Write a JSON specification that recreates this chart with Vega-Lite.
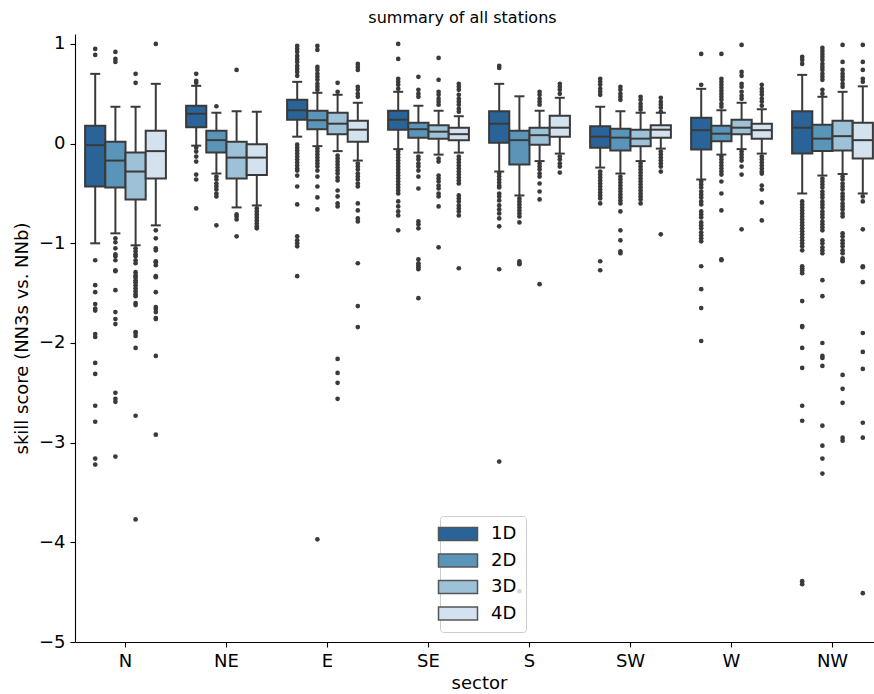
{
  "$schema": "https://vega.github.io/schema/vega-lite/v6.json",
  "autosize": "none",
  "width": 799,
  "height": 608,
  "padding": {"left": 75, "top": 34, "right": 0, "bottom": 52},
  "title": {"text": "summary of all stations", "font": "DejaVu Sans", "fontSize": 16, "fontWeight": "normal", "color": "#000000", "offset": 8, "dx": -12},
  "config": {
    "view": {"stroke": null},
    "font": "DejaVu Sans",
    "axis": {"grid": false, "labelFont": "DejaVu Sans", "titleFont": "DejaVu Sans", "labelFontSize": 18, "titleFontSize": 18, "titleFontWeight": "normal", "labelColor": "#000000", "titleColor": "#000000", "domainColor": "#000000", "domainWidth": 1.1, "tickColor": "#000000", "tickWidth": 1.1, "tickSize": 5}
  },
  "datasets": {
    "boxes": [
      {"s": "N", "d": "1D", "lo": -1.00, "q1": -0.43, "med": -0.015, "q3": 0.18, "hi": 0.70},
      {"s": "N", "d": "2D", "lo": -0.90, "q1": -0.44, "med": -0.17, "q3": 0.02, "hi": 0.37},
      {"s": "N", "d": "3D", "lo": -1.02, "q1": -0.56, "med": -0.28, "q3": -0.09, "hi": 0.37},
      {"s": "N", "d": "4D", "lo": -0.82, "q1": -0.35, "med": -0.075, "q3": 0.13, "hi": 0.60},
      {"s": "NE", "d": "1D", "lo": -0.02, "q1": 0.165, "med": 0.30, "q3": 0.38, "hi": 0.58},
      {"s": "NE", "d": "2D", "lo": -0.30, "q1": -0.09, "med": 0.035, "q3": 0.13, "hi": 0.31},
      {"s": "NE", "d": "3D", "lo": -0.64, "q1": -0.35, "med": -0.14, "q3": 0.02, "hi": 0.325},
      {"s": "NE", "d": "4D", "lo": -0.62, "q1": -0.315, "med": -0.14, "q3": -0.005, "hi": 0.32},
      {"s": "E", "d": "1D", "lo": 0.07, "q1": 0.24, "med": 0.335, "q3": 0.44, "hi": 0.62},
      {"s": "E", "d": "2D", "lo": -0.025, "q1": 0.145, "med": 0.235, "q3": 0.33, "hi": 0.51},
      {"s": "E", "d": "3D", "lo": -0.075, "q1": 0.095, "med": 0.20, "q3": 0.31, "hi": 0.49},
      {"s": "E", "d": "4D", "lo": -0.17, "q1": 0.02, "med": 0.14, "q3": 0.23, "hi": 0.41},
      {"s": "SE", "d": "1D", "lo": -0.055, "q1": 0.14, "med": 0.24, "q3": 0.33, "hi": 0.52},
      {"s": "SE", "d": "2D", "lo": -0.09, "q1": 0.06, "med": 0.145, "q3": 0.21, "hi": 0.38},
      {"s": "SE", "d": "3D", "lo": -0.11, "q1": 0.05, "med": 0.12, "q3": 0.185, "hi": 0.33},
      {"s": "SE", "d": "4D", "lo": -0.09, "q1": 0.035, "med": 0.095, "q3": 0.16, "hi": 0.275},
      {"s": "S", "d": "1D", "lo": -0.28, "q1": 0.01, "med": 0.20, "q3": 0.325, "hi": 0.60},
      {"s": "S", "d": "2D", "lo": -0.52, "q1": -0.21, "med": 0.035, "q3": 0.13, "hi": 0.475},
      {"s": "S", "d": "3D", "lo": -0.175, "q1": -0.01, "med": 0.085, "q3": 0.16, "hi": 0.33},
      {"s": "S", "d": "4D", "lo": -0.10, "q1": 0.07, "med": 0.16, "q3": 0.28, "hi": 0.46},
      {"s": "SW", "d": "1D", "lo": -0.24, "q1": -0.04, "med": 0.07, "q3": 0.175, "hi": 0.37},
      {"s": "SW", "d": "2D", "lo": -0.30, "q1": -0.07, "med": 0.06, "q3": 0.15, "hi": 0.325},
      {"s": "SW", "d": "3D", "lo": -0.175, "q1": -0.025, "med": 0.05, "q3": 0.14, "hi": 0.31},
      {"s": "SW", "d": "4D", "lo": -0.05, "q1": 0.06, "med": 0.14, "q3": 0.185, "hi": 0.31},
      {"s": "W", "d": "1D", "lo": -0.36, "q1": -0.06, "med": 0.135, "q3": 0.26, "hi": 0.55},
      {"s": "W", "d": "2D", "lo": -0.11, "q1": 0.025, "med": 0.10, "q3": 0.18, "hi": 0.335},
      {"s": "W", "d": "3D", "lo": -0.055, "q1": 0.095, "med": 0.16, "q3": 0.24, "hi": 0.41},
      {"s": "W", "d": "4D", "lo": -0.10, "q1": 0.05, "med": 0.135, "q3": 0.20, "hi": 0.345},
      {"s": "NW", "d": "1D", "lo": -0.50, "q1": -0.10, "med": 0.16, "q3": 0.325, "hi": 0.69},
      {"s": "NW", "d": "2D", "lo": -0.32, "q1": -0.075, "med": 0.05, "q3": 0.19, "hi": 0.47},
      {"s": "NW", "d": "3D", "lo": -0.305, "q1": -0.07, "med": 0.075, "q3": 0.23, "hi": 0.52},
      {"s": "NW", "d": "4D", "lo": -0.50, "q1": -0.15, "med": 0.035, "q3": 0.21, "hi": 0.575}
    ],
    "outliers": [
      {"s":"N","d":"1D","v":0.95},{"s":"N","d":"1D","v":0.89},{"s":"N","d":"1D","v":-1.17},{"s":"N","d":"1D","v":-1.42},{"s":"N","d":"1D","v":-1.49},{"s":"N","d":"1D","v":-1.61},{"s":"N","d":"1D","v":-1.655},{"s":"N","d":"1D","v":-1.675},{"s":"N","d":"1D","v":-1.91},{"s":"N","d":"1D","v":-1.94},{"s":"N","d":"1D","v":-2.20},{"s":"N","d":"1D","v":-2.31},{"s":"N","d":"1D","v":-2.63},{"s":"N","d":"1D","v":-2.79},{"s":"N","d":"1D","v":-3.16},{"s":"N","d":"1D","v":-3.22},
      {"s":"N","d":"2D","v":0.92},{"s":"N","d":"2D","v":0.85},{"s":"N","d":"2D","v":0.82},{"s":"N","d":"2D","v":-0.95},{"s":"N","d":"2D","v":-0.99},{"s":"N","d":"2D","v":-1.05},{"s":"N","d":"2D","v":-1.11},{"s":"N","d":"2D","v":-1.13},{"s":"N","d":"2D","v":-1.17},{"s":"N","d":"2D","v":-1.27},{"s":"N","d":"2D","v":-1.28},{"s":"N","d":"2D","v":-1.47},{"s":"N","d":"2D","v":-1.69},{"s":"N","d":"2D","v":-1.76},{"s":"N","d":"2D","v":-1.81},{"s":"N","d":"2D","v":-2.50},{"s":"N","d":"2D","v":-2.56},{"s":"N","d":"2D","v":-2.59},{"s":"N","d":"2D","v":-3.14},
      {"s":"N","d":"3D","v":0.70},{"s":"N","d":"3D","v":0.61},{"s":"N","d":"3D","v":-1.05},{"s":"N","d":"3D","v":-1.08},{"s":"N","d":"3D","v":-1.11},{"s":"N","d":"3D","v":-1.13},{"s":"N","d":"3D","v":-1.17},{"s":"N","d":"3D","v":-1.20},{"s":"N","d":"3D","v":-1.29},{"s":"N","d":"3D","v":-1.32},{"s":"N","d":"3D","v":-1.34},{"s":"N","d":"3D","v":-1.37},{"s":"N","d":"3D","v":-1.39},{"s":"N","d":"3D","v":-1.42},{"s":"N","d":"3D","v":-1.45},{"s":"N","d":"3D","v":-1.48},{"s":"N","d":"3D","v":-1.51},{"s":"N","d":"3D","v":-1.53},{"s":"N","d":"3D","v":-1.60},{"s":"N","d":"3D","v":-1.62},{"s":"N","d":"3D","v":-1.89},{"s":"N","d":"3D","v":-1.90},{"s":"N","d":"3D","v":-1.93},{"s":"N","d":"3D","v":-2.05},{"s":"N","d":"3D","v":-2.73},{"s":"N","d":"3D","v":-3.77},
      {"s":"N","d":"4D","v":1.00},{"s":"N","d":"4D","v":-0.87},{"s":"N","d":"4D","v":-0.95},{"s":"N","d":"4D","v":-1.05},{"s":"N","d":"4D","v":-1.07},{"s":"N","d":"4D","v":-1.18},{"s":"N","d":"4D","v":-1.19},{"s":"N","d":"4D","v":-1.22},{"s":"N","d":"4D","v":-1.33},{"s":"N","d":"4D","v":-1.34},{"s":"N","d":"4D","v":-1.49},{"s":"N","d":"4D","v":-1.64},{"s":"N","d":"4D","v":-1.66},{"s":"N","d":"4D","v":-1.69},{"s":"N","d":"4D","v":-1.75},{"s":"N","d":"4D","v":-1.76},{"s":"N","d":"4D","v":-2.13},{"s":"N","d":"4D","v":-2.92},
      {"s":"NE","d":"1D","v":0.70},{"s":"NE","d":"1D","v":0.63},{"s":"NE","d":"1D","v":0.61},{"s":"NE","d":"1D","v":-0.04},{"s":"NE","d":"1D","v":-0.08},{"s":"NE","d":"1D","v":-0.13},{"s":"NE","d":"1D","v":-0.18},{"s":"NE","d":"1D","v":-0.31},{"s":"NE","d":"1D","v":-0.36},{"s":"NE","d":"1D","v":-0.65},
      {"s":"NE","d":"2D","v":0.375},{"s":"NE","d":"2D","v":-0.33},{"s":"NE","d":"2D","v":-0.36},{"s":"NE","d":"2D","v":-0.40},{"s":"NE","d":"2D","v":-0.43},{"s":"NE","d":"2D","v":-0.46},{"s":"NE","d":"2D","v":-0.50},{"s":"NE","d":"2D","v":-0.53},{"s":"NE","d":"2D","v":-0.82},
      {"s":"NE","d":"3D","v":0.74},{"s":"NE","d":"3D","v":-0.71},{"s":"NE","d":"3D","v":-0.73},{"s":"NE","d":"3D","v":-0.76},{"s":"NE","d":"3D","v":-0.93},
      {"s":"NE","d":"4D","v":-0.65},{"s":"NE","d":"4D","v":-0.68},{"s":"NE","d":"4D","v":-0.71},{"s":"NE","d":"4D","v":-0.74},{"s":"NE","d":"4D","v":-0.77},{"s":"NE","d":"4D","v":-0.80},{"s":"NE","d":"4D","v":-0.83},{"s":"NE","d":"4D","v":-0.85},
      {"s":"E","d":"1D","v":0.98},{"s":"E","d":"1D","v":0.95},{"s":"E","d":"1D","v":0.92},{"s":"E","d":"1D","v":0.88},{"s":"E","d":"1D","v":0.85},{"s":"E","d":"1D","v":0.82},{"s":"E","d":"1D","v":0.78},{"s":"E","d":"1D","v":0.75},{"s":"E","d":"1D","v":0.72},{"s":"E","d":"1D","v":0.68},{"s":"E","d":"1D","v":-0.01},{"s":"E","d":"1D","v":-0.04},{"s":"E","d":"1D","v":-0.07},{"s":"E","d":"1D","v":-0.10},{"s":"E","d":"1D","v":-0.13},{"s":"E","d":"1D","v":-0.16},{"s":"E","d":"1D","v":-0.19},{"s":"E","d":"1D","v":-0.22},{"s":"E","d":"1D","v":-0.25},{"s":"E","d":"1D","v":-0.27},{"s":"E","d":"1D","v":-0.32},{"s":"E","d":"1D","v":-0.43},{"s":"E","d":"1D","v":-0.61},{"s":"E","d":"1D","v":-0.93},{"s":"E","d":"1D","v":-0.97},{"s":"E","d":"1D","v":-1.00},{"s":"E","d":"1D","v":-1.03},{"s":"E","d":"1D","v":-1.33},
      {"s":"E","d":"2D","v":0.98},{"s":"E","d":"2D","v":0.94},{"s":"E","d":"2D","v":0.77},{"s":"E","d":"2D","v":0.74},{"s":"E","d":"2D","v":0.70},{"s":"E","d":"2D","v":0.67},{"s":"E","d":"2D","v":0.64},{"s":"E","d":"2D","v":0.60},{"s":"E","d":"2D","v":0.57},{"s":"E","d":"2D","v":0.54},{"s":"E","d":"2D","v":-0.05},{"s":"E","d":"2D","v":-0.08},{"s":"E","d":"2D","v":-0.11},{"s":"E","d":"2D","v":-0.14},{"s":"E","d":"2D","v":-0.17},{"s":"E","d":"2D","v":-0.20},{"s":"E","d":"2D","v":-0.23},{"s":"E","d":"2D","v":-0.27},{"s":"E","d":"2D","v":-0.33},{"s":"E","d":"2D","v":-0.43},{"s":"E","d":"2D","v":-0.54},{"s":"E","d":"2D","v":-0.66},{"s":"E","d":"2D","v":-3.97},
      {"s":"E","d":"3D","v":0.61},{"s":"E","d":"3D","v":0.52},{"s":"E","d":"3D","v":-0.12},{"s":"E","d":"3D","v":-0.15},{"s":"E","d":"3D","v":-0.18},{"s":"E","d":"3D","v":-0.21},{"s":"E","d":"3D","v":-0.24},{"s":"E","d":"3D","v":-0.27},{"s":"E","d":"3D","v":-0.30},{"s":"E","d":"3D","v":-0.34},{"s":"E","d":"3D","v":-0.37},{"s":"E","d":"3D","v":-0.47},{"s":"E","d":"3D","v":-0.53},{"s":"E","d":"3D","v":-0.60},{"s":"E","d":"3D","v":-0.63},{"s":"E","d":"3D","v":-2.16},{"s":"E","d":"3D","v":-2.30},{"s":"E","d":"3D","v":-2.40},{"s":"E","d":"3D","v":-2.56},
      {"s":"E","d":"4D","v":0.80},{"s":"E","d":"4D","v":0.77},{"s":"E","d":"4D","v":0.74},{"s":"E","d":"4D","v":0.57},{"s":"E","d":"4D","v":0.54},{"s":"E","d":"4D","v":0.50},{"s":"E","d":"4D","v":0.47},{"s":"E","d":"4D","v":-0.20},{"s":"E","d":"4D","v":-0.23},{"s":"E","d":"4D","v":-0.26},{"s":"E","d":"4D","v":-0.30},{"s":"E","d":"4D","v":-0.33},{"s":"E","d":"4D","v":-0.36},{"s":"E","d":"4D","v":-0.40},{"s":"E","d":"4D","v":-0.43},{"s":"E","d":"4D","v":-0.60},{"s":"E","d":"4D","v":-0.67},{"s":"E","d":"4D","v":-0.75},{"s":"E","d":"4D","v":-0.78},{"s":"E","d":"4D","v":-1.20},{"s":"E","d":"4D","v":-1.63},{"s":"E","d":"4D","v":-1.84},
      {"s":"SE","d":"1D","v":1.00},{"s":"SE","d":"1D","v":0.85},{"s":"SE","d":"1D","v":0.65},{"s":"SE","d":"1D","v":0.62},{"s":"SE","d":"1D","v":0.59},{"s":"SE","d":"1D","v":0.55},{"s":"SE","d":"1D","v":-0.08},{"s":"SE","d":"1D","v":-0.11},{"s":"SE","d":"1D","v":-0.14},{"s":"SE","d":"1D","v":-0.17},{"s":"SE","d":"1D","v":-0.20},{"s":"SE","d":"1D","v":-0.23},{"s":"SE","d":"1D","v":-0.26},{"s":"SE","d":"1D","v":-0.29},{"s":"SE","d":"1D","v":-0.32},{"s":"SE","d":"1D","v":-0.35},{"s":"SE","d":"1D","v":-0.38},{"s":"SE","d":"1D","v":-0.41},{"s":"SE","d":"1D","v":-0.44},{"s":"SE","d":"1D","v":-0.47},{"s":"SE","d":"1D","v":-0.50},{"s":"SE","d":"1D","v":-0.58},{"s":"SE","d":"1D","v":-0.63},{"s":"SE","d":"1D","v":-0.68},{"s":"SE","d":"1D","v":-0.72},{"s":"SE","d":"1D","v":-0.87},
      {"s":"SE","d":"2D","v":0.67},{"s":"SE","d":"2D","v":0.54},{"s":"SE","d":"2D","v":0.50},{"s":"SE","d":"2D","v":0.47},{"s":"SE","d":"2D","v":-0.13},{"s":"SE","d":"2D","v":-0.16},{"s":"SE","d":"2D","v":-0.20},{"s":"SE","d":"2D","v":-0.23},{"s":"SE","d":"2D","v":-0.27},{"s":"SE","d":"2D","v":-0.33},{"s":"SE","d":"2D","v":-0.45},{"s":"SE","d":"2D","v":-0.78},{"s":"SE","d":"2D","v":-0.81},{"s":"SE","d":"2D","v":-0.85},{"s":"SE","d":"2D","v":-1.16},{"s":"SE","d":"2D","v":-1.20},{"s":"SE","d":"2D","v":-1.22},{"s":"SE","d":"2D","v":-1.24},{"s":"SE","d":"2D","v":-1.26},{"s":"SE","d":"2D","v":-1.55},
      {"s":"SE","d":"3D","v":0.86},{"s":"SE","d":"3D","v":0.64},{"s":"SE","d":"3D","v":0.52},{"s":"SE","d":"3D","v":0.49},{"s":"SE","d":"3D","v":0.45},{"s":"SE","d":"3D","v":0.42},{"s":"SE","d":"3D","v":0.39},{"s":"SE","d":"3D","v":-0.15},{"s":"SE","d":"3D","v":-0.18},{"s":"SE","d":"3D","v":-0.32},{"s":"SE","d":"3D","v":-0.35},{"s":"SE","d":"3D","v":-0.38},{"s":"SE","d":"3D","v":-0.42},{"s":"SE","d":"3D","v":-0.45},{"s":"SE","d":"3D","v":-0.50},{"s":"SE","d":"3D","v":-0.53},{"s":"SE","d":"3D","v":-0.63},{"s":"SE","d":"3D","v":-1.04},
      {"s":"SE","d":"4D","v":0.60},{"s":"SE","d":"4D","v":0.57},{"s":"SE","d":"4D","v":0.54},{"s":"SE","d":"4D","v":0.49},{"s":"SE","d":"4D","v":0.45},{"s":"SE","d":"4D","v":0.42},{"s":"SE","d":"4D","v":0.39},{"s":"SE","d":"4D","v":0.35},{"s":"SE","d":"4D","v":0.32},{"s":"SE","d":"4D","v":-0.13},{"s":"SE","d":"4D","v":-0.16},{"s":"SE","d":"4D","v":-0.19},{"s":"SE","d":"4D","v":-0.22},{"s":"SE","d":"4D","v":-0.25},{"s":"SE","d":"4D","v":-0.28},{"s":"SE","d":"4D","v":-0.31},{"s":"SE","d":"4D","v":-0.34},{"s":"SE","d":"4D","v":-0.37},{"s":"SE","d":"4D","v":-0.40},{"s":"SE","d":"4D","v":-0.52},{"s":"SE","d":"4D","v":-0.55},{"s":"SE","d":"4D","v":-0.58},{"s":"SE","d":"4D","v":-0.62},{"s":"SE","d":"4D","v":-0.65},{"s":"SE","d":"4D","v":-0.68},{"s":"SE","d":"4D","v":-0.72},{"s":"SE","d":"4D","v":-1.25},
      {"s":"S","d":"1D","v":0.78},{"s":"S","d":"1D","v":0.76},{"s":"S","d":"1D","v":-0.30},{"s":"S","d":"1D","v":-0.33},{"s":"S","d":"1D","v":-0.36},{"s":"S","d":"1D","v":-0.39},{"s":"S","d":"1D","v":-0.42},{"s":"S","d":"1D","v":-0.44},{"s":"S","d":"1D","v":-0.50},{"s":"S","d":"1D","v":-0.53},{"s":"S","d":"1D","v":-0.57},{"s":"S","d":"1D","v":-0.62},{"s":"S","d":"1D","v":-0.66},{"s":"S","d":"1D","v":-0.70},{"s":"S","d":"1D","v":-0.75},{"s":"S","d":"1D","v":-0.83},{"s":"S","d":"1D","v":-1.26},{"s":"S","d":"1D","v":-3.19},
      {"s":"S","d":"2D","v":-0.55},{"s":"S","d":"2D","v":-0.58},{"s":"S","d":"2D","v":-0.61},{"s":"S","d":"2D","v":-0.64},{"s":"S","d":"2D","v":-0.67},{"s":"S","d":"2D","v":-0.70},{"s":"S","d":"2D","v":-0.73},{"s":"S","d":"2D","v":-0.79},{"s":"S","d":"2D","v":-1.18},{"s":"S","d":"2D","v":-1.20},{"s":"S","d":"2D","v":-1.21},{"s":"S","d":"2D","v":-4.49},
      {"s":"S","d":"3D","v":0.52},{"s":"S","d":"3D","v":0.49},{"s":"S","d":"3D","v":0.45},{"s":"S","d":"3D","v":0.42},{"s":"S","d":"3D","v":0.39},{"s":"S","d":"3D","v":-0.20},{"s":"S","d":"3D","v":-0.23},{"s":"S","d":"3D","v":-0.26},{"s":"S","d":"3D","v":-0.30},{"s":"S","d":"3D","v":-0.33},{"s":"S","d":"3D","v":-0.40},{"s":"S","d":"3D","v":-0.48},{"s":"S","d":"3D","v":-0.56},{"s":"S","d":"3D","v":-1.41},
      {"s":"S","d":"4D","v":0.60},{"s":"S","d":"4D","v":0.57},{"s":"S","d":"4D","v":0.54},{"s":"S","d":"4D","v":0.50},{"s":"S","d":"4D","v":-0.13},{"s":"S","d":"4D","v":-0.16},{"s":"S","d":"4D","v":-0.20},{"s":"S","d":"4D","v":-0.23},{"s":"S","d":"4D","v":-0.29},
      {"s":"SW","d":"1D","v":0.65},{"s":"SW","d":"1D","v":0.62},{"s":"SW","d":"1D","v":0.59},{"s":"SW","d":"1D","v":0.55},{"s":"SW","d":"1D","v":0.52},{"s":"SW","d":"1D","v":0.49},{"s":"SW","d":"1D","v":-0.28},{"s":"SW","d":"1D","v":-0.31},{"s":"SW","d":"1D","v":-0.34},{"s":"SW","d":"1D","v":-0.37},{"s":"SW","d":"1D","v":-0.40},{"s":"SW","d":"1D","v":-0.43},{"s":"SW","d":"1D","v":-0.46},{"s":"SW","d":"1D","v":-0.49},{"s":"SW","d":"1D","v":-0.52},{"s":"SW","d":"1D","v":-0.55},{"s":"SW","d":"1D","v":-0.60},{"s":"SW","d":"1D","v":-1.18},{"s":"SW","d":"1D","v":-1.27},
      {"s":"SW","d":"2D","v":0.57},{"s":"SW","d":"2D","v":0.54},{"s":"SW","d":"2D","v":0.50},{"s":"SW","d":"2D","v":0.47},{"s":"SW","d":"2D","v":0.44},{"s":"SW","d":"2D","v":-0.33},{"s":"SW","d":"2D","v":-0.36},{"s":"SW","d":"2D","v":-0.39},{"s":"SW","d":"2D","v":-0.42},{"s":"SW","d":"2D","v":-0.45},{"s":"SW","d":"2D","v":-0.48},{"s":"SW","d":"2D","v":-0.51},{"s":"SW","d":"2D","v":-0.54},{"s":"SW","d":"2D","v":-0.57},{"s":"SW","d":"2D","v":-0.60},{"s":"SW","d":"2D","v":-0.68},{"s":"SW","d":"2D","v":-0.87},{"s":"SW","d":"2D","v":-0.97},{"s":"SW","d":"2D","v":-1.08},{"s":"SW","d":"2D","v":-1.10},
      {"s":"SW","d":"3D","v":0.47},{"s":"SW","d":"3D","v":0.44},{"s":"SW","d":"3D","v":0.40},{"s":"SW","d":"3D","v":0.37},{"s":"SW","d":"3D","v":0.34},{"s":"SW","d":"3D","v":-0.20},{"s":"SW","d":"3D","v":-0.23},{"s":"SW","d":"3D","v":-0.26},{"s":"SW","d":"3D","v":-0.29},{"s":"SW","d":"3D","v":-0.32},{"s":"SW","d":"3D","v":-0.35},{"s":"SW","d":"3D","v":-0.38},{"s":"SW","d":"3D","v":-0.41},{"s":"SW","d":"3D","v":-0.44},{"s":"SW","d":"3D","v":-0.47},{"s":"SW","d":"3D","v":-0.50},{"s":"SW","d":"3D","v":-0.53},{"s":"SW","d":"3D","v":-0.56},{"s":"SW","d":"3D","v":-0.60},
      {"s":"SW","d":"4D","v":0.46},{"s":"SW","d":"4D","v":0.42},{"s":"SW","d":"4D","v":0.39},{"s":"SW","d":"4D","v":0.36},{"s":"SW","d":"4D","v":0.32},{"s":"SW","d":"4D","v":-0.08},{"s":"SW","d":"4D","v":-0.11},{"s":"SW","d":"4D","v":-0.14},{"s":"SW","d":"4D","v":-0.17},{"s":"SW","d":"4D","v":-0.20},{"s":"SW","d":"4D","v":-0.23},{"s":"SW","d":"4D","v":-0.28},{"s":"SW","d":"4D","v":-0.91},
      {"s":"W","d":"1D","v":0.90},{"s":"W","d":"1D","v":0.59},{"s":"W","d":"1D","v":-0.38},{"s":"W","d":"1D","v":-0.41},{"s":"W","d":"1D","v":-0.44},{"s":"W","d":"1D","v":-0.48},{"s":"W","d":"1D","v":-0.51},{"s":"W","d":"1D","v":-0.54},{"s":"W","d":"1D","v":-0.58},{"s":"W","d":"1D","v":-0.61},{"s":"W","d":"1D","v":-0.68},{"s":"W","d":"1D","v":-0.71},{"s":"W","d":"1D","v":-0.74},{"s":"W","d":"1D","v":-0.79},{"s":"W","d":"1D","v":-0.82},{"s":"W","d":"1D","v":-0.85},{"s":"W","d":"1D","v":-0.89},{"s":"W","d":"1D","v":-0.92},{"s":"W","d":"1D","v":-0.95},{"s":"W","d":"1D","v":-0.98},{"s":"W","d":"1D","v":-1.23},{"s":"W","d":"1D","v":-1.46},{"s":"W","d":"1D","v":-1.65},{"s":"W","d":"1D","v":-1.98},
      {"s":"W","d":"2D","v":0.90},{"s":"W","d":"2D","v":0.65},{"s":"W","d":"2D","v":0.62},{"s":"W","d":"2D","v":0.59},{"s":"W","d":"2D","v":0.56},{"s":"W","d":"2D","v":0.53},{"s":"W","d":"2D","v":0.50},{"s":"W","d":"2D","v":0.47},{"s":"W","d":"2D","v":0.44},{"s":"W","d":"2D","v":0.40},{"s":"W","d":"2D","v":0.37},{"s":"W","d":"2D","v":-0.13},{"s":"W","d":"2D","v":-0.16},{"s":"W","d":"2D","v":-0.19},{"s":"W","d":"2D","v":-0.22},{"s":"W","d":"2D","v":-0.25},{"s":"W","d":"2D","v":-0.28},{"s":"W","d":"2D","v":-0.31},{"s":"W","d":"2D","v":-0.38},{"s":"W","d":"2D","v":-0.50},{"s":"W","d":"2D","v":-0.67},{"s":"W","d":"2D","v":-1.16},{"s":"W","d":"2D","v":-1.17},
      {"s":"W","d":"3D","v":0.99},{"s":"W","d":"3D","v":0.72},{"s":"W","d":"3D","v":0.68},{"s":"W","d":"3D","v":0.60},{"s":"W","d":"3D","v":0.57},{"s":"W","d":"3D","v":0.52},{"s":"W","d":"3D","v":0.48},{"s":"W","d":"3D","v":0.45},{"s":"W","d":"3D","v":-0.08},{"s":"W","d":"3D","v":-0.11},{"s":"W","d":"3D","v":-0.14},{"s":"W","d":"3D","v":-0.17},{"s":"W","d":"3D","v":-0.23},{"s":"W","d":"3D","v":-0.31},{"s":"W","d":"3D","v":-0.86},
      {"s":"W","d":"4D","v":0.59},{"s":"W","d":"4D","v":0.55},{"s":"W","d":"4D","v":0.52},{"s":"W","d":"4D","v":0.49},{"s":"W","d":"4D","v":0.45},{"s":"W","d":"4D","v":0.42},{"s":"W","d":"4D","v":0.38},{"s":"W","d":"4D","v":-0.13},{"s":"W","d":"4D","v":-0.16},{"s":"W","d":"4D","v":-0.19},{"s":"W","d":"4D","v":-0.22},{"s":"W","d":"4D","v":-0.25},{"s":"W","d":"4D","v":-0.28},{"s":"W","d":"4D","v":-0.30},{"s":"W","d":"4D","v":-0.42},{"s":"W","d":"4D","v":-0.46},{"s":"W","d":"4D","v":-0.59},{"s":"W","d":"4D","v":-0.77},
      {"s":"NW","d":"1D","v":0.87},{"s":"NW","d":"1D","v":0.84},{"s":"NW","d":"1D","v":0.80},{"s":"NW","d":"1D","v":-0.58},{"s":"NW","d":"1D","v":-0.61},{"s":"NW","d":"1D","v":-0.64},{"s":"NW","d":"1D","v":-0.67},{"s":"NW","d":"1D","v":-0.70},{"s":"NW","d":"1D","v":-0.73},{"s":"NW","d":"1D","v":-0.76},{"s":"NW","d":"1D","v":-0.79},{"s":"NW","d":"1D","v":-0.82},{"s":"NW","d":"1D","v":-0.85},{"s":"NW","d":"1D","v":-0.88},{"s":"NW","d":"1D","v":-0.91},{"s":"NW","d":"1D","v":-0.94},{"s":"NW","d":"1D","v":-0.97},{"s":"NW","d":"1D","v":-1.00},{"s":"NW","d":"1D","v":-1.03},{"s":"NW","d":"1D","v":-1.07},{"s":"NW","d":"1D","v":-1.23},{"s":"NW","d":"1D","v":-1.25},{"s":"NW","d":"1D","v":-1.27},{"s":"NW","d":"1D","v":-1.30},{"s":"NW","d":"1D","v":-1.58},{"s":"NW","d":"1D","v":-1.83},{"s":"NW","d":"1D","v":-1.84},{"s":"NW","d":"1D","v":-2.05},{"s":"NW","d":"1D","v":-2.25},{"s":"NW","d":"1D","v":-2.63},{"s":"NW","d":"1D","v":-2.78},{"s":"NW","d":"1D","v":-4.39},{"s":"NW","d":"1D","v":-4.42},
      {"s":"NW","d":"2D","v":0.96},{"s":"NW","d":"2D","v":0.93},{"s":"NW","d":"2D","v":0.90},{"s":"NW","d":"2D","v":0.87},{"s":"NW","d":"2D","v":0.84},{"s":"NW","d":"2D","v":0.80},{"s":"NW","d":"2D","v":0.77},{"s":"NW","d":"2D","v":0.74},{"s":"NW","d":"2D","v":0.70},{"s":"NW","d":"2D","v":0.67},{"s":"NW","d":"2D","v":0.64},{"s":"NW","d":"2D","v":0.54},{"s":"NW","d":"2D","v":0.50},{"s":"NW","d":"2D","v":-0.35},{"s":"NW","d":"2D","v":-0.38},{"s":"NW","d":"2D","v":-0.41},{"s":"NW","d":"2D","v":-0.44},{"s":"NW","d":"2D","v":-0.48},{"s":"NW","d":"2D","v":-0.51},{"s":"NW","d":"2D","v":-0.54},{"s":"NW","d":"2D","v":-0.58},{"s":"NW","d":"2D","v":-0.61},{"s":"NW","d":"2D","v":-0.64},{"s":"NW","d":"2D","v":-0.68},{"s":"NW","d":"2D","v":-0.71},{"s":"NW","d":"2D","v":-0.74},{"s":"NW","d":"2D","v":-0.78},{"s":"NW","d":"2D","v":-0.81},{"s":"NW","d":"2D","v":-0.84},{"s":"NW","d":"2D","v":-0.87},{"s":"NW","d":"2D","v":-0.97},{"s":"NW","d":"2D","v":-1.00},{"s":"NW","d":"2D","v":-1.04},{"s":"NW","d":"2D","v":-1.07},{"s":"NW","d":"2D","v":-1.10},{"s":"NW","d":"2D","v":-1.37},{"s":"NW","d":"2D","v":-1.53},{"s":"NW","d":"2D","v":-2.00},{"s":"NW","d":"2D","v":-2.13},{"s":"NW","d":"2D","v":-2.15},{"s":"NW","d":"2D","v":-2.23},{"s":"NW","d":"2D","v":-2.83},{"s":"NW","d":"2D","v":-3.03},{"s":"NW","d":"2D","v":-3.16},{"s":"NW","d":"2D","v":-3.31},
      {"s":"NW","d":"3D","v":0.99},{"s":"NW","d":"3D","v":0.82},{"s":"NW","d":"3D","v":0.74},{"s":"NW","d":"3D","v":0.70},{"s":"NW","d":"3D","v":0.67},{"s":"NW","d":"3D","v":0.64},{"s":"NW","d":"3D","v":0.60},{"s":"NW","d":"3D","v":0.57},{"s":"NW","d":"3D","v":-0.33},{"s":"NW","d":"3D","v":-0.36},{"s":"NW","d":"3D","v":-0.40},{"s":"NW","d":"3D","v":-0.43},{"s":"NW","d":"3D","v":-0.46},{"s":"NW","d":"3D","v":-0.50},{"s":"NW","d":"3D","v":-0.53},{"s":"NW","d":"3D","v":-0.56},{"s":"NW","d":"3D","v":-0.60},{"s":"NW","d":"3D","v":-0.63},{"s":"NW","d":"3D","v":-0.66},{"s":"NW","d":"3D","v":-0.70},{"s":"NW","d":"3D","v":-0.73},{"s":"NW","d":"3D","v":-0.90},{"s":"NW","d":"3D","v":-0.93},{"s":"NW","d":"3D","v":-0.97},{"s":"NW","d":"3D","v":-1.00},{"s":"NW","d":"3D","v":-1.03},{"s":"NW","d":"3D","v":-1.07},{"s":"NW","d":"3D","v":-1.10},{"s":"NW","d":"3D","v":-1.15},{"s":"NW","d":"3D","v":-1.17},{"s":"NW","d":"3D","v":-1.18},{"s":"NW","d":"3D","v":-2.32},{"s":"NW","d":"3D","v":-2.46},{"s":"NW","d":"3D","v":-2.60},{"s":"NW","d":"3D","v":-2.95},{"s":"NW","d":"3D","v":-2.98},
      {"s":"NW","d":"4D","v":0.99},{"s":"NW","d":"4D","v":0.82},{"s":"NW","d":"4D","v":0.74},{"s":"NW","d":"4D","v":0.65},{"s":"NW","d":"4D","v":0.62},{"s":"NW","d":"4D","v":-0.53},{"s":"NW","d":"4D","v":-0.58},{"s":"NW","d":"4D","v":-0.86},{"s":"NW","d":"4D","v":-1.23},{"s":"NW","d":"4D","v":-1.24},{"s":"NW","d":"4D","v":-1.39},{"s":"NW","d":"4D","v":-1.90},{"s":"NW","d":"4D","v":-2.09},{"s":"NW","d":"4D","v":-2.26},{"s":"NW","d":"4D","v":-2.80},{"s":"NW","d":"4D","v":-2.95},{"s":"NW","d":"4D","v":-4.51}
    ]
  },
  "encoding": {
    "x": {"field": "s", "type": "nominal", "sort": ["N","NE","E","SE","S","SW","W","NW"], "scale": {"range": [0, 808], "paddingInner": 0.2, "paddingOuter": 0.1}, "axis": {"title": "sector", "labelAngle": 0, "labelPadding": 5, "titlePadding": 4}},
    "xOffset": {"field": "d", "type": "nominal", "sort": ["1D","2D","3D","4D"], "scale": {"paddingInner": 0, "paddingOuter": 0}}
  },
  "layer": [
    {
      "data": {"name": "boxes"},
      "mark": {"type": "rule", "color": "#3a3a3a", "strokeWidth": 2},
      "encoding": {
        "y": {"field": "lo", "type": "quantitative", "scale": {"domain": [-5, 1.1], "nice": false, "zero": false}, "axis": {"values": [-5,-4,-3,-2,-1,0,1], "format": "~g", "title": "skill score (NN3s vs. NNb)", "labelPadding": 5, "titlePadding": 7}},
        "y2": {"field": "hi"}
      }
    },
    {
      "data": {"name": "boxes"},
      "mark": {"type": "bar", "stroke": "#3a3a3a", "strokeWidth": 2, "opacity": 1},
      "encoding": {
        "y": {"field": "q1", "type": "quantitative"},
        "y2": {"field": "q3"},
        "color": {"field": "d", "type": "nominal", "sort": ["1D","2D","3D","4D"],
          "scale": {"domain": ["1D","2D","3D","4D"], "range": ["#2a6398", "#5a94b9", "#9dc1d6", "#d4e1ee"]},
          "legend": {"title": null, "orient": "none", "legendX": 365, "legendY": 482, "symbolType": "M-3,-1L3,-1L3,1L-3,1Z", "symbolSize": 169, "symbolStrokeColor": "#555555", "symbolStrokeWidth": 1.5, "symbolOpacity": 1, "labelFontSize": 18, "labelFont": "DejaVu Sans", "labelColor": "#000000", "labelOffset": 24, "rowPadding": 6.5, "padding": 9, "fillColor": "rgba(255,255,255,0.8)", "strokeColor": "#cccccc", "cornerRadius": 3}}
      }
    },
    {
      "data": {"name": "boxes"},
      "mark": {"type": "tick", "color": "#3a3a3a", "thickness": 2, "size": 20, "opacity": 1},
      "encoding": {"y": {"field": "med", "type": "quantitative"}}
    },
    {
      "data": {"name": "boxes"},
      "mark": {"type": "tick", "color": "#3a3a3a", "thickness": 2, "size": 10, "opacity": 1},
      "encoding": {"y": {"field": "lo", "type": "quantitative"}}
    },
    {
      "data": {"name": "boxes"},
      "mark": {"type": "tick", "color": "#3a3a3a", "thickness": 2, "size": 10, "opacity": 1},
      "encoding": {"y": {"field": "hi", "type": "quantitative"}}
    },
    {
      "data": {"name": "outliers"},
      "mark": {"type": "circle", "color": "#3a3a3a", "size": 22, "opacity": 1},
      "encoding": {"y": {"field": "v", "type": "quantitative"}}
    },
    {
      "mark": {"type": "rule", "color": "#a0a0a0", "strokeWidth": 1.3},
      "encoding": {"y": {"datum": 0}, "x": null, "xOffset": null}
    },
    {
      "mark": {"type": "rule", "color": "#000000", "strokeWidth": 1.1},
      "encoding": {"y": {"datum": 1.1}, "x": null, "xOffset": null}
    }
  ]
}
